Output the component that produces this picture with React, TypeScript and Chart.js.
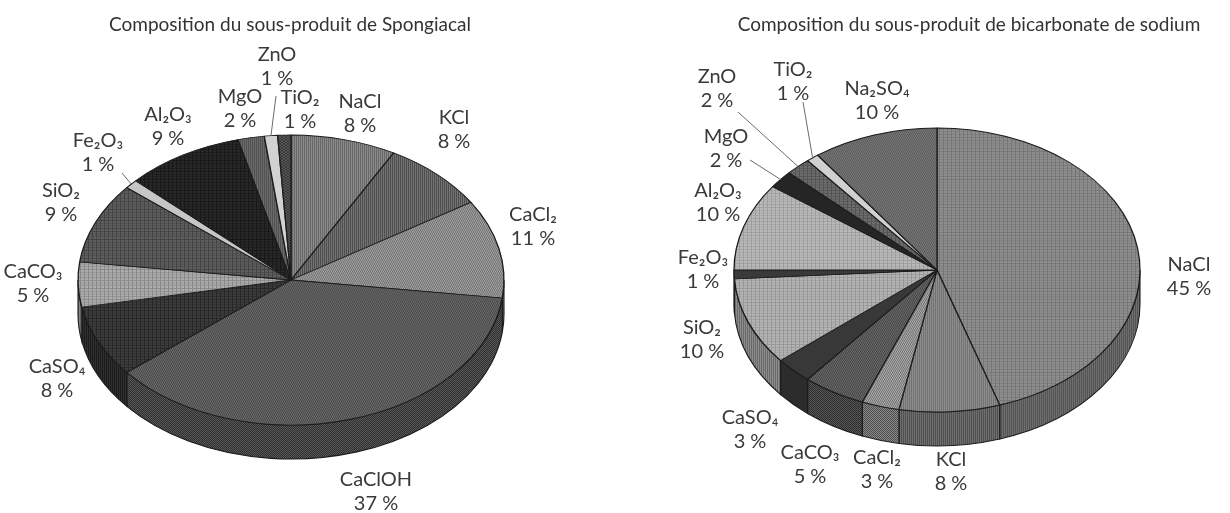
import React, { useEffect, useRef } from "react";
import { Chart, registerables } from "chart.js";
Chart.register(...registerables);

// ---------------- data ----------------
const LEFT_TITLE = "Composition du sous-produit de Spongiacal";
const LEFT_LABELS = ["NaCl", "KCl", "CaCl₂", "CaClOH", "CaSO₄", "CaCO₃", "SiO₂", "Fe₂O₃", "Al₂O₃", "MgO", "ZnO", "TiO₂"];
const LEFT_VALUES = [8, 8, 11, 37, 8, 5, 9, 1, 9, 2, 1, 1];

const RIGHT_TITLE = "Composition du sous-produit de bicarbonate de sodium";
const RIGHT_LABELS = ["NaCl", "KCl", "CaCl₂", "CaCO₃", "CaSO₄", "SiO₂", "Fe₂O₃", "Al₂O₃", "MgO", "ZnO", "TiO₂", "Na₂SO₄"];
const RIGHT_VALUES = [45, 8, 3, 5, 3, 10, 1, 10, 2, 2, 1, 10];

// ---------------- styles ----------------
type Style = { k: string; c: string; l?: string };
const LEFT_STYLES: Style[] = [
  { k: "v", c: "#8a8a8a", l: "#686868" },
  { k: "v", c: "#747474", l: "#4e4e4e" },
  { k: "d", c: "#a8a8a8", l: "#6c6c6c" },
  { k: "d", c: "#707070", l: "#444444" },
  { k: "g", c: "#3c3c3c", l: "#282828" },
  { k: "g", c: "#acacac", l: "#8a8a8a" },
  { k: "g", c: "#5e5e5e", l: "#444444" },
  { k: "s", c: "#c6c6c6" },
  { k: "g", c: "#282828", l: "#181818" },
  { k: "v", c: "#6a6a6a", l: "#525252" },
  { k: "s", c: "#d2d2d2" },
  { k: "x", c: "#5c5c5c", l: "#333333" },
];
const RIGHT_STYLES: Style[] = [
  { k: "g", c: "#8e8e8e", l: "#767676" },
  { k: "v", c: "#8e8e8e", l: "#727272" },
  { k: "d", c: "#b2b2b2", l: "#6c6c6c" },
  { k: "d", c: "#6e6e6e", l: "#424242" },
  { k: "s", c: "#383838" },
  { k: "g", c: "#b4b4b4", l: "#989898" },
  { k: "s", c: "#3a3a3a" },
  { k: "g", c: "#b9b9b9", l: "#9e9e9e" },
  { k: "s", c: "#252525" },
  { k: "g", c: "#6c6c6c", l: "#535353" },
  { k: "s", c: "#d0d0d0" },
  { k: "c", c: "#7c7c7c", l: "#585858" },
];

// ---------------- layout (page px) ----------------
const CANVAS_W = 615;
const CANVAS_H = 513;
const LINE_GAP = 24;
const TITLE_Y = 25;
const TITLE_SIZE = 19;
const LABEL_SIZE = 20;
const LEFT_PIE = { cx: 291, cy: 280, r: 213, k: 145 / 213, depth: 34, offsetX: 0, titleX: 290 };
const RIGHT_PIE = { cx: 937, cy: 270, r: 203, k: 142 / 203, depth: 34, offsetX: 615, titleX: 969 };
const LEFT_LABEL_POS = [[360, 102], [454, 118], [533, 215], [376, 480], [57, 367], [33, 272], [61, 191], [98, 141], [168, 115], [240, 97], [277, 55], [300, 98]];
const RIGHT_LABEL_POS = [[1189, 265], [951, 460], [877, 458], [810, 453], [750, 418], [702, 328], [703, 258], [718, 191], [726, 137], [717, 77], [793, 70], [877, 89]];
const LEFT_LEADERS = [[10, 276, 96], [7, 122, 173]];
const RIGHT_LEADERS = [[9, 738, 112], [10, 803, 102], [8, 750, 160]];

const FONT = "Lato, 'Open Sans', 'DejaVu Sans', sans-serif";

function shade(hex: string, f: number) {
  const n = parseInt(hex.slice(1), 16);
  const r = Math.round(((n >> 16) & 255) * f);
  const g = Math.round(((n >> 8) & 255) * f);
  const b = Math.round((n & 255) * f);
  return "#" + [r, g, b].map((v) => v.toString(16).padStart(2, "0")).join("");
}

function makeFill(ctx: CanvasRenderingContext2D, s: Style): any {
  if (s.k === "s") return s.c;
  const size = 4;
  const t = document.createElement("canvas");
  t.width = size;
  t.height = size;
  const g = t.getContext("2d")!;
  g.fillStyle = s.c;
  g.fillRect(0, 0, size, size);
  g.fillStyle = s.l || s.c;
  if (s.k === "v") {
    g.fillRect(0, 0, 1, size);
    g.fillRect(2, 0, 1, size);
  } else if (s.k === "d") {
    for (let i = 0; i < size; i++) g.fillRect(i, size - 1 - i, 1, 1);
    for (let i = 0; i < size; i++) g.fillRect((i + 2) % size, size - 1 - i, 1, 1);
  } else if (s.k === "g") {
    g.fillRect(0, 0, 1, size);
    g.fillRect(0, 0, size, 1);
  } else if (s.k === "c") {
    for (let y = 0; y < size; y++)
      for (let x = 0; x < size; x++) if ((x + y) % 2 === 0) g.fillRect(x, y, 1, 1);
  } else if (s.k === "x") {
    for (let i = 0; i < size; i++) {
      g.fillRect(i, i, 1, 1);
      g.fillRect(i, size - 1 - i, 1, 1);
    }
  }
  return ctx.createPattern(t, "repeat");
}

function sideStyle(s: Style): Style {
  if (s.k === "s") return { k: "s", c: shade(s.c, 0.78) };
  return { k: s.k === "d" ? "d" : "v", c: shade(s.c, 0.78), l: shade(s.l || s.c, 0.7) };
}

type PieProps = {
  title: string;
  labels: string[];
  values: number[];
  styles: Style[];
  pie: typeof LEFT_PIE;
  labelPos: number[][];
  leaders: number[][];
};

function Pie3D(props: PieProps) {
  const ref = useRef<HTMLCanvasElement>(null);
  useEffect(() => {
    const canvas = ref.current!;
    const ctx = canvas.getContext("2d")!;
    const { pie } = props;
    const ox = pie.offsetX;
    const cxLocal = pie.cx - ox;
    const fills = props.styles.map((s) => makeFill(ctx, s));
    const sideFills = props.styles.map((s) => makeFill(ctx, sideStyle(s)));
    const bw = 1.3;
    const rr = pie.r + bw / 2;

    const geom = (chart: any) => {
      const meta = chart.getDatasetMeta(0);
      const a0 = meta.data[0].getProps(["x", "y", "outerRadius"], true);
      return { meta, cx: a0.x, cy: a0.y, rx: a0.outerRadius, ry: a0.outerRadius * pie.k };
    };

    const plugin = {
      id: "pie3d",
      beforeDatasetsDraw(chart: any) {
        const c = chart.ctx as CanvasRenderingContext2D;
        const { meta, cx, cy, rx, ry } = geom(chart);
        const d = pie.depth;
        meta.data.forEach((arc: any, i: number) => {
          const p = arc.getProps(["startAngle", "endAngle"], true);
          const a = Math.max(p.startAngle, 0);
          const b = Math.min(p.endAngle, Math.PI);
          if (b <= a) return;
          c.save();
          c.beginPath();
          c.ellipse(cx, cy, rx, ry, 0, a, b);
          c.ellipse(cx, cy + d, rx, ry, 0, b, a, true);
          c.closePath();
          c.fillStyle = sideFills[i];
          c.fill();
          c.strokeStyle = "#1c1c1c";
          c.lineWidth = 1.1;
          c.stroke();
          c.restore();
        });
        c.save();
        c.translate(0, cy);
        c.scale(1, pie.k);
        c.translate(0, -cy);
      },
      afterDatasetsDraw(chart: any) {
        chart.ctx.restore();
      },
      afterDraw(chart: any) {
        const c = chart.ctx as CanvasRenderingContext2D;
        const { meta, cx, cy, rx, ry } = geom(chart);
        c.save();
        c.fillStyle = "#333333";
        c.font = `${TITLE_SIZE}px ${FONT}`;
        c.textAlign = "center";
        c.textBaseline = "middle";
        c.fillText(props.title, pie.titleX - ox, TITLE_Y);
        c.strokeStyle = "#6a6a6a";
        c.lineWidth = 1;
        props.leaders.forEach(([i, lx, ly]) => {
          const p = meta.data[i].getProps(["startAngle", "endAngle"], true);
          const m = (p.startAngle + p.endAngle) / 2;
          c.beginPath();
          c.moveTo(lx - ox, ly);
          c.lineTo(cx + rx * Math.cos(m), cy + ry * Math.sin(m));
          c.stroke();
        });
        c.fillStyle = "#3a3a3a";
        c.font = `${LABEL_SIZE}px ${FONT}`;
        props.labels.forEach((lab, i) => {
          const [x, y] = props.labelPos[i];
          c.fillText(lab, x - ox, y);
          c.fillText(`${props.values[i]} %`, x - ox, y + LINE_GAP);
        });
        c.restore();
      },
    };

    const chart = new Chart(canvas, {
      type: "pie",
      data: {
        labels: props.labels,
        datasets: [
          {
            data: props.values,
            backgroundColor: fills,
            borderColor: "#1c1c1c",
            borderWidth: bw,
          },
        ],
      },
      options: {
        responsive: false,
        animation: false,
        events: [],
        layout: {
          padding: {
            left: cxLocal - rr,
            right: CANVAS_W - (cxLocal + rr),
            top: pie.cy - rr,
            bottom: CANVAS_H - (pie.cy + rr),
          },
        },
        plugins: {
          legend: { display: false },
          tooltip: { enabled: false },
          title: { display: false },
        },
      },
      plugins: [plugin as any],
    } as any);
    return () => chart.destroy();
  }, []);
  return (
    <canvas
      ref={ref}
      width={CANVAS_W}
      height={CANVAS_H}
      style={{ display: "block", width: CANVAS_W, height: CANVAS_H }}
    />
  );
}

export default function App() {
  return (
    <div
      style={{
        position: "absolute",
        left: 0,
        top: 0,
        width: 1230,
        height: 513,
        background: "#ffffff",
        display: "flex",
      }}
    >
      <Pie3D
        title={LEFT_TITLE}
        labels={LEFT_LABELS}
        values={LEFT_VALUES}
        styles={LEFT_STYLES}
        pie={LEFT_PIE}
        labelPos={LEFT_LABEL_POS}
        leaders={LEFT_LEADERS}
      />
      <Pie3D
        title={RIGHT_TITLE}
        labels={RIGHT_LABELS}
        values={RIGHT_VALUES}
        styles={RIGHT_STYLES}
        pie={RIGHT_PIE}
        labelPos={RIGHT_LABEL_POS}
        leaders={RIGHT_LEADERS}
      />
    </div>
  );
}
